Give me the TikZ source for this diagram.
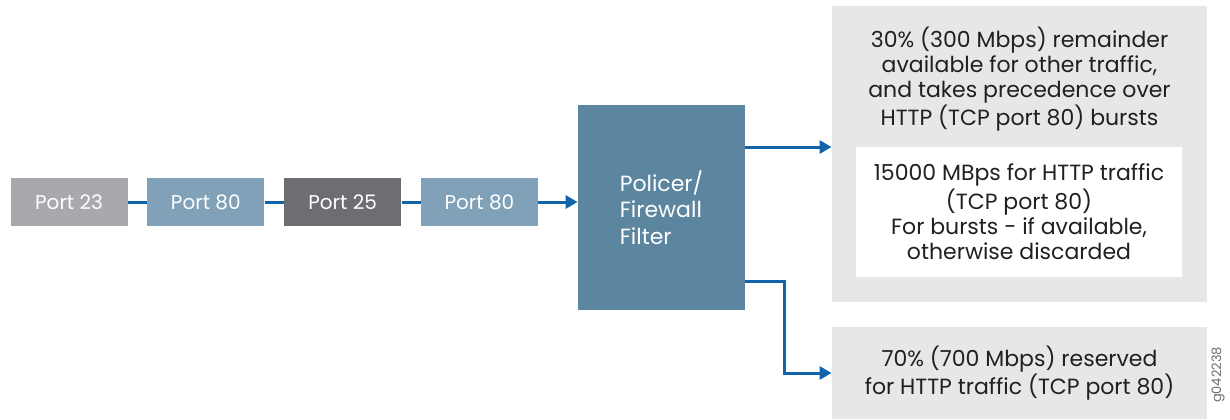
\documentclass[tikz,border=0pt]{standalone}
\usepackage{fontspec}
\setmainfont{Poppins}
\usetikzlibrary{arrows.meta,positioning}
\definecolor{portgray}{RGB}{167,169,172}
\definecolor{portblue}{RGB}{128,161,184}
\definecolor{portdark}{RGB}{109,110,113}
\definecolor{filterblue}{RGB}{92,133,160}
\definecolor{linkblue}{RGB}{16,100,170}
\definecolor{panelgray}{RGB}{230,231,232}
\definecolor{textdark}{RGB}{35,31,32}

\begin{document}
\begin{tikzpicture}[
      x=0.5pt,y=-0.5pt,
      every node/.style={font=\fontsize{10}{12.6}\selectfont,inner sep=0pt},
      port/.style={fill=#1,text=white,minimum width=58.5pt,minimum height=24pt},
      panel/.style={fill=panelgray,minimum width=187.5pt},
      note/.style={text=textdark,align=center,font=\fontsize{11}{12.6}\selectfont},
      link/.style={line width=1.5pt,draw=linkblue},
      arrow/.style={link,-{Triangle[length=6pt,width=6.5pt]}}
    ]
      \useasboundingbox (0,0) rectangle (1230,419);
      % ports waiting in the queue
      \node[port=portgray] (p23) at (69,202) {Port 23};
      \node[port=portblue,right=9.5pt of p23] (p80a) {Port 80};
      \node[port=portdark,right=9.5pt of p80a] (p25) {Port 25};
      \node[port=portblue,right=9.5pt of p25] (p80b) {Port 80};
      \node[fill=filterblue,text=white,align=left,minimum width=83.5pt,minimum height=102.5pt,font=\fontsize{11}{13.2}\selectfont] (filter) at (661.5,207.5) {Policer/\\Firewall\\Filter};
      % output side
      \node[panel,minimum height=148pt] (remain) at (1019.5,154) {};
      \node[note] (remaintxt) at (1019.5,79) {30\% (300 Mbps) remainder\\available for other traffic,\\and takes precedence over\\HTTP (TCP port 80) bursts};
      \node[note,fill=white,minimum width=163pt,minimum height=65pt] (burst) at (1019,212) {15000 MBps for HTTP traffic\\(TCP port 80)\\For bursts - if available,\\otherwise discarded};
      \node[note,panel,minimum height=46pt] (reserved) at (1019.5,373) {70\% (700 Mbps) reserved\\for HTTP traffic (TCP port 80)};
      \node[rotate=90,text=portdark,font=\fontsize{6.5}{8}\selectfont] (figid) at (1218,375) {g042238};
      \coordinate (bend) at (784,281);
      \draw[link] (p23) -- (p80a);
      \draw[link] (p80a) -- (p25);
      \draw[link] (p25) -- (p80b);
      \draw[arrow] (p80b) -- (p80b -| filter.west);
      \draw[arrow] (filter.east |- 0,147) -- (remain.west |- 0,147);
      \draw[arrow] (filter.east |- bend) -- (bend) |- (reserved.west);
    \end{tikzpicture}
\end{document}
